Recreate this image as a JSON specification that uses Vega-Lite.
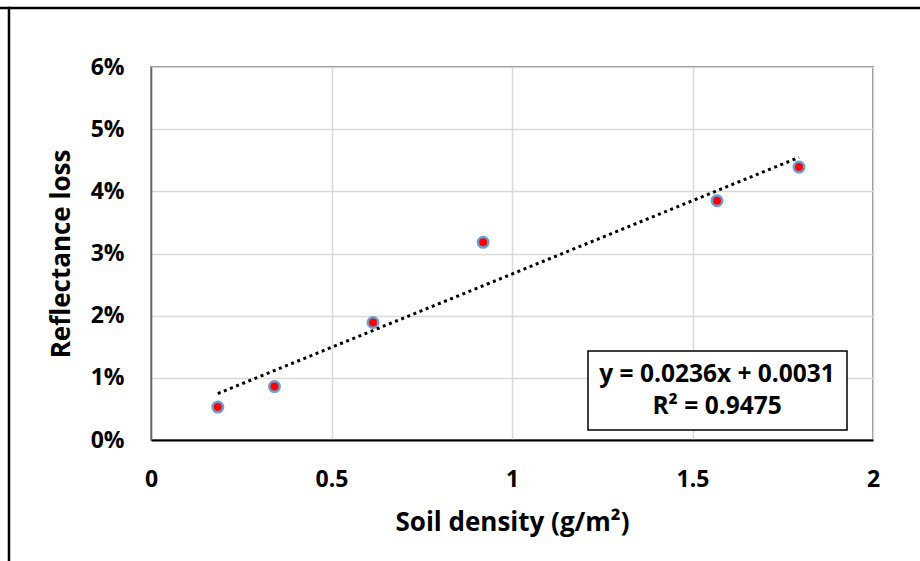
{
  "$schema": "https://vega.github.io/schema/vega-lite/v6.json",
  "width": 722,
  "height": 373,
  "autosize": {"type": "none"},
  "padding": {"left": 151, "top": 67, "right": 47, "bottom": 121},
  "background": "white",
  "data": {"values": [{}]},
  "config": {
    "font": "Open Sans",
    "view": {"stroke": "#666666", "strokeWidth": 1.5},
    "axis": {
      "labelFont": "Open Sans",
      "labelFontWeight": "bold",
      "labelFontSize": 23,
      "labelColor": "black",
      "titleFont": "Open Sans",
      "titleFontWeight": "bold",
      "titleFontSize": 26,
      "titleColor": "black",
      "gridColor": "#d9d9d9",
      "gridWidth": 1.5,
      "ticks": false
    }
  },
  "datasets": {
    "pts": [
      {"density": 0.185, "loss": 0.0053},
      {"density": 0.342, "loss": 0.0086},
      {"density": 0.615, "loss": 0.0189},
      {"density": 0.92, "loss": 0.0318},
      {"density": 1.568, "loss": 0.0385},
      {"density": 1.795, "loss": 0.0439}
    ],
    "trend": [
      {"density": 0.185, "loss": 0.00747},
      {"density": 1.795, "loss": 0.04546}
    ]
  },
  "layer": [
    {
      "data": {"name": "pts"},
      "mark": {"type": "point", "filled": false, "fill": "#ff0000", "fillOpacity": 1, "stroke": "#6a9fd6", "strokeWidth": 2.5, "size": 110, "opacity": 1},
      "encoding": {
        "x": {
          "field": "density", "type": "quantitative",
          "scale": {"domain": [0, 2], "nice": false},
          "axis": {"values": [0, 0.5, 1, 1.5, 2], "format": "~g", "title": "Soil density (g/m²)", "labelPadding": 28, "titlePadding": 18, "domainColor": "black", "domainWidth": 2, "labelFlush": false, "grid": true}
        },
        "y": {
          "field": "loss", "type": "quantitative",
          "scale": {"domain": [0, 0.06], "nice": false},
          "axis": {"values": [0, 0.01, 0.02, 0.03, 0.04, 0.05, 0.06], "format": ".0%", "title": "Reflectance loss", "labelPadding": 27, "titlePadding": 16, "domainColor": "#666666", "domainWidth": 1.5, "grid": true}
        }
      }
    },
    {
      "data": {"name": "trend"},
      "mark": {"type": "line", "color": "black", "strokeWidth": 3, "strokeDash": [3, 3.6], "strokeCap": "butt"},
      "encoding": {
        "x": {"field": "density", "type": "quantitative"},
        "y": {"field": "loss", "type": "quantitative"}
      }
    },
    {
      "mark": {"type": "rule", "color": "black", "strokeWidth": 2.5},
      "encoding": {
        "x": {"datum": -0.45, "type": "quantitative"},
        "x2": {"datum": 2.3},
        "y": {"datum": 0.06949, "type": "quantitative"}
      }
    },
    {
      "mark": {"type": "rule", "color": "black", "strokeWidth": 2.5},
      "encoding": {
        "x": {"datum": -0.3934, "type": "quantitative"},
        "y": {"datum": 0.06969, "type": "quantitative"},
        "y2": {"datum": -0.025}
      }
    },
    {
      "mark": {"type": "rect", "fill": "white", "stroke": "black", "strokeWidth": 1.5},
      "encoding": {
        "x": {"datum": 1.2105, "type": "quantitative"},
        "x2": {"datum": 1.928},
        "y": {"datum": 0.0143, "type": "quantitative"},
        "y2": {"datum": 0.0016}
      }
    },
    {
      "mark": {"type": "text", "text": "y = 0.0236x + 0.0031", "font": "Open Sans", "fontWeight": "bold", "fontSize": 24.5, "color": "black", "align": "center", "baseline": "middle"},
      "encoding": {
        "x": {"datum": 1.568, "type": "quantitative"},
        "y": {"datum": 0.01045, "type": "quantitative"}
      }
    },
    {
      "mark": {"type": "text", "text": "R² = 0.9475", "font": "Open Sans", "fontWeight": "bold", "fontSize": 24.5, "color": "black", "align": "center", "baseline": "middle"},
      "encoding": {
        "x": {"datum": 1.568, "type": "quantitative"},
        "y": {"datum": 0.0053, "type": "quantitative"}
      }
    }
  ]
}
